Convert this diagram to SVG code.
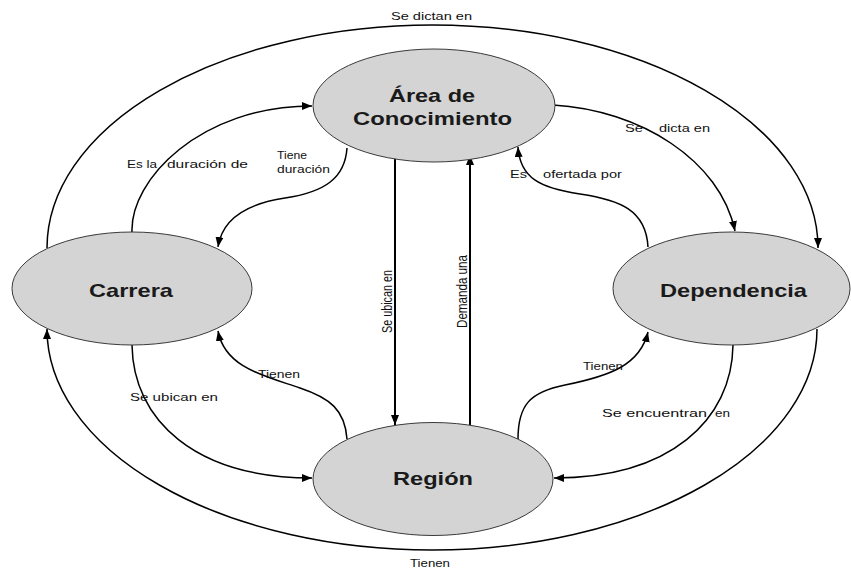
<svg xmlns="http://www.w3.org/2000/svg" width="851" height="569" viewBox="0 0 851 569">
<style>
.node ellipse{fill:#d4d4d4;stroke:#3a3a3a;stroke-width:1}
.nlabel{font-family:"Liberation Sans",Arial,sans-serif;font-weight:bold;font-size:18.5px;fill:#1a1a1a}
.elabel{font-family:"Liberation Sans",Arial,sans-serif;font-size:11.5px;fill:#111}
#connectors path{fill:none;stroke:#000;stroke-width:1.5}
#connectors path.arrow{marker-end:url(#ah)}
#connectors path.v{stroke-width:2}
</style>
<defs>
<marker id="ah" viewBox="0 0 10 8" refX="10" refY="4" markerWidth="10" markerHeight="8" markerUnits="userSpaceOnUse" orient="auto">
<path d="M0,0 L10,4 L0,8 z" fill="#000"/>
</marker>
</defs>
<rect width="851" height="569" fill="#fff"/>
<g id="connectors">
<path class="arrow" d="M47,248 A385.5 223 0 0 1 818,248"/>
<path class="arrow" d="M817,329 A385 221 0 0 1 47,329"/>
<path class="arrow" d="M132,232 C130,180 200,106 312,106"/>
<path class="arrow" d="M347,148 C345,178 325,192 285,198 C245,204 222,220 218,247"/>
<path class="arrow v" d="M395,157 L395,425"/>
<path class="arrow v" d="M470,425 L470,155"/>
<path class="arrow" d="M553,105 C640,110 720,160 735,231"/>
<path class="arrow" d="M648,247 C646,210 620,200 580,194 C540,188 520,178 518,147"/>
<path class="arrow" d="M347,439 C345,410 330,398 300,388 C265,376 225,368 218,331"/>
<path class="arrow" d="M132,345 C133,420 195,478 312,478"/>
<path class="arrow" d="M518,439 C518,405 530,392 565,385 C610,376 640,365 648,332"/>
<path class="arrow" d="M733,345 C732,420 670,478 554,478"/>
</g>
<g id="edge-labels">
<text class="elabel" x="391" y="20" textLength="81" lengthAdjust="spacingAndGlyphs">Se dictan en</text>
<text class="elabel" x="410" y="567" textLength="40" lengthAdjust="spacingAndGlyphs">Tienen</text>
<text class="elabel" x="127" y="168" textLength="30" lengthAdjust="spacingAndGlyphs">Es la</text>
<text class="elabel" x="167" y="168" textLength="81" lengthAdjust="spacingAndGlyphs">duración de</text>
<text class="elabel" x="277" y="159" textLength="30" lengthAdjust="spacingAndGlyphs">Tiene</text>
<text class="elabel" x="277" y="173" textLength="53" lengthAdjust="spacingAndGlyphs">duración</text>
<text class="elabel" x="625" y="132" textLength="18" lengthAdjust="spacingAndGlyphs">Se</text>
<text class="elabel" x="659" y="132" textLength="51" lengthAdjust="spacingAndGlyphs">dicta en</text>
<text class="elabel" x="510" y="178" textLength="17" lengthAdjust="spacingAndGlyphs">Es</text>
<text class="elabel" x="543" y="178" textLength="79" lengthAdjust="spacingAndGlyphs">ofertada por</text>
<text class="elabel" transform="translate(392,333) rotate(-90) scale(1,1.25)" textLength="63" lengthAdjust="spacingAndGlyphs">Se ubican en</text>
<text class="elabel" transform="translate(467,328) rotate(-90) scale(1,1.25)" textLength="73" lengthAdjust="spacingAndGlyphs">Demanda una</text>
<text class="elabel" x="258" y="378" textLength="42" lengthAdjust="spacingAndGlyphs">Tienen</text>
<text class="elabel" x="130" y="401" textLength="88" lengthAdjust="spacingAndGlyphs">Se ubican en</text>
<text class="elabel" x="583" y="370" textLength="40" lengthAdjust="spacingAndGlyphs">Tienen</text>
<text class="elabel" x="602" y="417" textLength="105" lengthAdjust="spacingAndGlyphs">Se encuentran</text>
<text class="elabel" x="715" y="417" textLength="15" lengthAdjust="spacingAndGlyphs">en</text>
</g>
<g id="node-area" class="node">
<ellipse cx="434" cy="105.5" rx="121" ry="56.5"/>
<text class="nlabel" x="389" y="102" textLength="86" lengthAdjust="spacingAndGlyphs">Área de</text>
<text class="nlabel" x="353" y="125" textLength="159" lengthAdjust="spacingAndGlyphs">Conocimiento</text>
</g>
<g id="node-carrera" class="node">
<ellipse cx="132" cy="288.5" rx="120" ry="56.5"/>
<text class="nlabel" x="89" y="297" textLength="84" lengthAdjust="spacingAndGlyphs">Carrera</text>
</g>
<g id="node-dependencia" class="node">
<ellipse cx="731.5" cy="288.5" rx="118.5" ry="56.5"/>
<text class="nlabel" x="660" y="297" textLength="147" lengthAdjust="spacingAndGlyphs">Dependencia</text>
</g>
<g id="node-region" class="node">
<ellipse cx="433" cy="479" rx="120" ry="56.5"/>
<text class="nlabel" x="393" y="485" textLength="80" lengthAdjust="spacingAndGlyphs">Región</text>
</g>
</svg>
